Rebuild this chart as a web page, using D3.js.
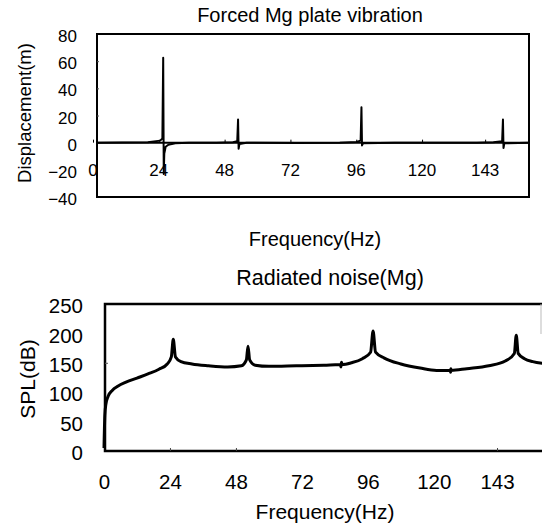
<!DOCTYPE html>
<html>
<head>
<meta charset="utf-8">
<script src="https://cdn.jsdelivr.net/npm/d3@7"></script>
<style>
  body { margin: 0; background: #fff; }
  svg { display: block; }
  text { font-family: "Liberation Sans", Arial, sans-serif; fill: #000; }
</style>
</head>
<body>
<script>
// tick labels used on both frequency axes
const freqTicks = [0, 24, 48, 72, 96, 120, 143]
const dispTicks = [80, 60, 40, 20, 0, -20, -40]
const splTicks = [250, 200, 150, 100, 50, 0]

// forced plate vibration, displacement (m) vs frequency (Hz)
const dispFreq = [1.5, 20, 24.5, 25.3, 25.6, 25.8, 26.0, 26.5, 27.5, 30, 35, 45, 51, 52.6, 52.9, 53.1, 53.4, 56,
    75, 90, 96, 97.6, 97.9, 98.1, 98.5, 110, 140, 146, 149.2, 149.5, 149.7, 150, 159]
const dispVal = [0, 0.3, 1.5, 3, 62.5, -23, -8, -3, -1.5, -0.5, 0, 0, 0.3, 1, 17, -4.5, -1, 0,
    -0.3, 0, 0.5, 1.5, 26, -2, -0.5, 0, 0, 0.3, 1, 17, -4, -0.5, 0]

// radiated noise, SPL (dB) vs frequency (Hz)
const splFreq = [0, 0.3, 0.7, 1.5, 3, 5, 8, 12, 16, 20, 23, 24.5, 25.2, 26, 28, 32, 38, 45, 50, 51.8, 52.4, 53, 55,
    60, 70, 80, 86, 86.2, 86.4, 86.6, 90, 94, 97, 97.9, 98.8, 102, 108, 115, 121, 126, 126.1, 126.2, 126.3,
    132, 140, 146, 149.3, 150, 150.7, 153, 156, 159.5]
const splVal = [5, 60, 80, 93, 103, 110, 117, 124, 131, 139, 148, 160, 190, 160, 152, 148, 145, 143, 145, 155, 178, 155, 146,
    144, 145, 146, 147, 143, 151, 147, 150, 157, 168, 204, 168, 158, 148, 141, 137, 137, 134, 140, 137,
    140, 145, 153, 166, 197, 166, 157, 152, 149]

const width = 542, height = 528

let svg = d3.select("body").append("svg")
    .attr("width", width)
    .attr("height", height)

// ---------- top chart: Forced Mg plate vibration ----------
let topBox = { left: 97, right: 529, top: 34, bottom: 197 }
let xTop = d3.scaleLinear().domain([0, 159]).range([93, 529])
let yTop = d3.scaleLinear().domain([-40, 80]).range([197, 34])

svg.append("text")
    .attr("x", 310).attr("y", 22)
    .attr("text-anchor", "middle")
    .style("font-size", "20px")
    .text("Forced Mg plate vibration")

svg.append("rect")
    .attr("x", topBox.left).attr("y", topBox.top)
    .attr("width", topBox.right - topBox.left).attr("height", topBox.bottom - topBox.top)
    .attr("fill", "none").attr("stroke", "#000").attr("stroke-width", 2)

// zero line acts as the x axis
let xAxisTop = svg.append("g")
    .attr("transform", `translate(0, ${yTop(0)})`)
    .call(d3.axisTop(xTop).tickValues(freqTicks).tickSize(3).tickFormat(""))
xAxisTop.select(".domain").remove()
xAxisTop.selectAll("line").attr("stroke-width", 1)

svg.append("line")
    .attr("x1", topBox.left).attr("x2", topBox.right)
    .attr("y1", yTop(0)).attr("y2", yTop(0))
    .attr("stroke", "#000").attr("stroke-width", 2)

svg.append("g").selectAll("text")
    .data(freqTicks)
    .enter()
    .append("text")
    .attr("x", d => xTop(d))
    .attr("y", 176)
    .attr("text-anchor", "middle")
    .style("font-size", "17px")
    .text(d => d)

let yAxisTop = svg.append("g")
    .attr("transform", `translate(77, 0)`)
    .call(d3.axisLeft(yTop).tickValues(dispTicks).tickSize(0).tickPadding(0))
yAxisTop.select(".domain").remove()
yAxisTop.selectAll("text")
    .attr("dy", "0.45em")
    .style("font-size", "17px")
    .style("font-family", "'Liberation Sans', Arial, sans-serif")

let yTicksTop = svg.append("g")
    .attr("transform", `translate(${topBox.left}, 0)`)
    .call(d3.axisRight(yTop).tickValues([60, 40, 20]).tickSize(2).tickFormat(""))
yTicksTop.select(".domain").remove()
yTicksTop.selectAll("line").attr("stroke", "#555")

svg.append("text")
    .attr("transform", `translate(31, 113) rotate(-90)`)
    .attr("text-anchor", "middle")
    .style("font-size", "18.5px")
    .text("Displacement(m)")

svg.append("text")
    .attr("x", 315).attr("y", 246)
    .attr("text-anchor", "middle")
    .style("font-size", "20px")
    .text("Frequency(Hz)")

let dispLine = d3.line()
    .x((d, i) => xTop(dispFreq[i]))
    .y(d => yTop(d))

svg.append("path")
    .datum(dispVal)
    .attr("d", dispLine)
    .attr("fill", "none")
    .attr("stroke", "#000")
    .attr("stroke-width", 2)
    .attr("stroke-linejoin", "round")

// ---------- bottom chart: Radiated noise ----------
let botBox = { left: 105, right: 541, top: 304, bottom: 451 }
let xBot = d3.scaleLinear().domain([0, 159]).range([104, 541])
let yBot = d3.scaleLinear().domain([0, 250]).range([451, 304])

svg.append("text")
    .attr("x", 330).attr("y", 285)
    .attr("text-anchor", "middle")
    .style("font-size", "21.5px")
    .text("Radiated noise(Mg)")

// frame: left, top, bottom solid; right edge only faintly visible in the scan
svg.append("path")
    .attr("d", `M${botBox.right + 1},${botBox.top}H${botBox.left}V${botBox.bottom}H${width}`)
    .attr("fill", "none").attr("stroke", "#000").attr("stroke-width", 2.5)
svg.append("line")
    .attr("x1", botBox.right).attr("x2", botBox.right)
    .attr("y1", botBox.top).attr("y2", botBox.top + 30)
    .attr("stroke", "#bbb").attr("stroke-width", 1)

let xTicksBot = svg.append("g")
    .attr("transform", `translate(0, ${botBox.bottom})`)
    .call(d3.axisTop(xBot).tickValues([24, 48, 143]).tickSize(3).tickFormat(""))
xTicksBot.select(".domain").remove()
xTicksBot.selectAll("line").attr("stroke", "#444")

let xAxisBot = svg.append("g")
    .attr("transform", `translate(0, 482)`)
    .call(d3.axisBottom(xBot).tickValues(freqTicks).tickSize(0).tickPadding(0))
xAxisBot.select(".domain").remove()
xAxisBot.selectAll("text")
    .attr("y", 0)
    .attr("dy", "0.36em")
    .style("font-size", "20.5px")
    .style("font-family", "'Liberation Sans', Arial, sans-serif")

let yAxisBot = svg.append("g")
    .attr("transform", `translate(83, 0)`)
    .call(d3.axisLeft(yBot).tickValues(splTicks).tickSize(0).tickPadding(0))
yAxisBot.select(".domain").remove()
yAxisBot.selectAll("text")
    .attr("dy", "0.42em")
    .style("font-size", "20.5px")
    .style("font-family", "'Liberation Sans', Arial, sans-serif")

let yTicksBot = svg.append("g")
    .attr("transform", `translate(${botBox.left}, 0)`)
    .call(d3.axisRight(yBot).tickValues([150]).tickSize(3).tickFormat(""))
yTicksBot.select(".domain").remove()
yTicksBot.selectAll("line").attr("stroke", "#555")

svg.append("text")
    .attr("transform", `translate(35, 379) rotate(-90)`)
    .attr("text-anchor", "middle")
    .style("font-size", "21px")
    .text("SPL(dB)")

svg.append("text")
    .attr("x", 325).attr("y", 519)
    .attr("text-anchor", "middle")
    .style("font-size", "21px")
    .text("Frequency(Hz)")

let splLine = d3.line()
    .x((d, i) => xBot(splFreq[i]))
    .y(d => yBot(d))
    .curve(d3.curveMonotoneX)

svg.append("path")
    .datum(splVal)
    .attr("d", splLine)
    .attr("fill", "none")
    .attr("stroke", "#000")
    .attr("stroke-width", 3)
    .attr("stroke-linejoin", "round")
</script>
</body>
</html>
